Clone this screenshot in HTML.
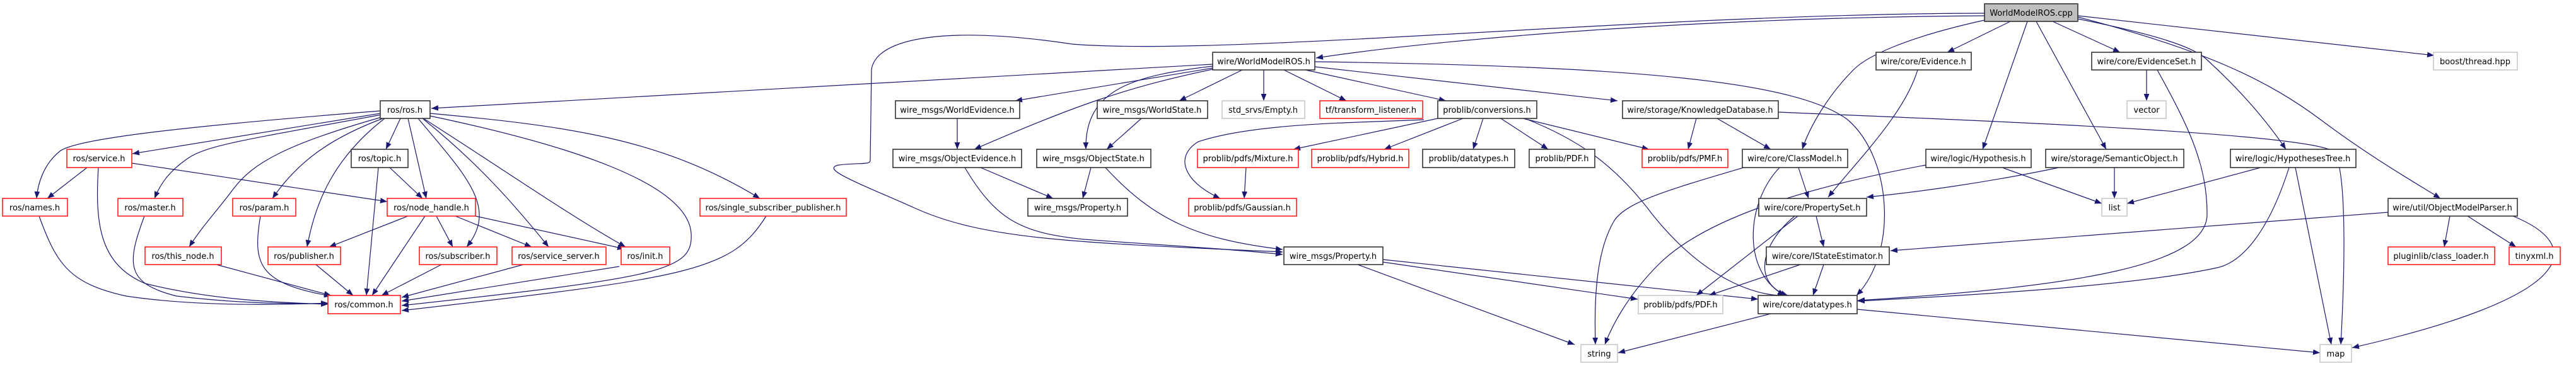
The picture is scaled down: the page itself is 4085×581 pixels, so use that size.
<!DOCTYPE html>
<html><head><meta charset="utf-8"><style>
html,body{margin:0;padding:0;background:#fff;}
svg{display:block;}
text{font-family:"DejaVu Sans","Liberation Sans",sans-serif;font-size:13px;fill:#000;text-anchor:middle;}
.b{fill:#fff;stroke:#333;stroke-width:1.6;}
.r{fill:#fff;stroke:#ff2020;stroke-width:1.6;}
.g{fill:#fff;stroke:#c0c0c0;stroke-width:1.4;}
.e{fill:none;stroke:#191970;stroke-width:1.2;marker-end:url(#a);}
</style></head><body>
<svg width="4085" height="581" viewBox="0 0 4085 581" xmlns="http://www.w3.org/2000/svg">
<defs><marker id="a" viewBox="0 0 10 8" refX="10" refY="4" markerWidth="11" markerHeight="9" markerUnits="userSpaceOnUse" orient="auto"><path d="M0,0 L10,4 L0,8 z" fill="#191970"/></marker></defs>
<g>
<!-- edges from WorldModelROS.cpp -->
<path class="e" d="M3147,25 C2700,28 2300,60 2087,92"/>
<path class="e" d="M3147,21 C2600,22 1950,90 1700,70 C1500,40 1390,60 1382,110 L1380,255 C1380,262 1360,258 1330,262 C1300,268 1360,290 1450,330 C1560,380 1700,385 2034,400"/>
<path class="e" d="M3188,34 L3088,83"/>
<path class="e" d="M3147,32 C3020,60 2960,90 2940,110 C2900,150 2870,200 2858,237"/>
<path class="e" d="M3215,34 L3144,237"/>
<path class="e" d="M3229,34 L3340,237"/>
<path class="e" d="M3255,34 L3362,83"/>
<path class="e" d="M3295,30 C3420,55 3480,75 3500,95 C3560,150 3600,200 3625,237"/>
<path class="e" d="M3295,27 C3500,80 3600,130 3680,190 C3760,250 3830,290 3870,315"/>
<path class="e" d="M3295,25 L3860,88"/>
<!-- Evidence / EvidenceSet / etc -->
<path class="e" d="M3041,111 C3020,180 2950,250 2899,313"/>
<path class="e" d="M3404,111 L3404,160"/>
<path class="e" d="M3421,111 C3470,200 3500,260 3500,340 C3500,420 3300,455 2946,477"/>
<path class="e" d="M3630,266 C3600,360 3560,415 3516,425 C3400,450 3200,465 2946,478"/>
<path class="e" d="M3640,266 L3697,547"/>
<path class="e" d="M3585,266 L3373,323"/>
<path class="e" d="M3175,266 L3333,323"/>
<path class="e" d="M3353,266 L3353,315"/>
<path class="e" d="M3054,262 C2850,300 2700,350 2630,420 C2580,470 2555,520 2545,547"/>
<path class="e" d="M3265,266 C3150,290 3040,305 2960,313"/>
<path class="e" d="M3787,337 L2998,398"/>
<path class="e" d="M3885,343 L3876,392"/>
<path class="e" d="M3913,343 L3990,392"/>
<path class="e" d="M3985,343 C4100,390 4090,470 3730,552"/>
<path class="e" d="M2820,178 C3100,190 3650,210 3700,240 C3720,260 3720,400 3712,547"/>
<path class="e" d="M2945,491 L3679,560"/>
<!-- WorldModelROS.h -->
<path class="e" d="M1923,102 L684,172"/>
<path class="e" d="M2085,98 C2600,105 2850,130 2930,190 C3000,250 3010,400 2944,469"/>
<path class="e" d="M2004,111 L2004,160"/>
<path class="e" d="M2036,111 L2135,160"/>
<path class="e" d="M2070,111 L2293,160"/>
<path class="e" d="M2085,106 L2565,160"/>
<path class="e" d="M1923,108 L1610,160"/>
<path class="e" d="M1970,111 L1870,160"/>
<path class="e" d="M1923,110 C1780,140 1700,170 1545,237"/>
<path class="e" d="M1923,105 C1800,120 1720,140 1722,237"/>
<!-- problib -->
<path class="e" d="M2280,188 L2051,237"/>
<path class="e" d="M2320,188 L2195,237"/>
<path class="e" d="M2352,188 L2336,237"/>
<path class="e" d="M2380,188 L2455,237"/>
<path class="e" d="M2415,188 L2615,237"/>
<path class="e" d="M2418,188 C2500,220 2560,260 2620,340 C2700,440 2780,470 2830,469"/>
<path class="e" d="M2258,190 C2150,195 1990,195 1900,225 C1860,250 1880,290 1935,315"/>
<path class="e" d="M1976,266 L1973,315"/>
<path class="e" d="M2690,188 L2677,237"/>
<path class="e" d="M2723,188 L2808,237"/>
<path class="e" d="M2765,266 C2650,300 2580,320 2560,350 C2530,400 2528,480 2530,547"/>
<path class="e" d="M2852,266 L2868,315"/>
<path class="e" d="M2822,266 C2770,320 2760,430 2830,469"/>
<path class="e" d="M2851,343 L2690,469"/>
<path class="e" d="M2846,343 C2790,390 2780,450 2835,469"/>
<path class="e" d="M2880,343 L2892,392"/>
<path class="e" d="M2855,420 L2710,469"/>
<path class="e" d="M2892,420 L2875,469"/>
<path class="e" d="M2153,420 L2497,547"/>
<path class="e" d="M2193,416 L2597,475"/>
<path class="e" d="M2193,412 L2788,475"/>
<path class="e" d="M2808,498 L2566,560"/>
<!-- wire_msgs -->
<path class="e" d="M1518,188 L1518,237"/>
<path class="e" d="M1810,188 L1755,237"/>
<path class="e" d="M1555,266 L1670,315"/>
<path class="e" d="M1730,266 L1717,315"/>
<path class="e" d="M1530,266 C1580,350 1620,370 1720,380 C1850,390 1950,395 2034,404"/>
<path class="e" d="M1753,266 C1830,350 1900,380 2034,396"/>
<!-- ros -->
<path class="e" d="M682,180 C900,200 1050,220 1205,315"/>
<path class="e" d="M1215,343 C1160,430 1100,440 637,493"/>
<path class="e" d="M682,184 C900,230 1090,290 1096,370 C1100,430 1050,440 637,485"/>
<path class="e" d="M673,189 C800,270 900,340 992,392"/>
<path class="e" d="M603,176 C300,200 120,220 95,240 C70,260 60,290 58,315"/>
<path class="e" d="M603,180 L210,244"/>
<path class="e" d="M605,182 C400,220 330,230 300,250 C270,270 255,290 245,315"/>
<path class="e" d="M605,186 C450,230 400,260 370,300 C340,340 320,360 300,392"/>
<path class="e" d="M610,187 C520,220 470,260 432,315"/>
<path class="e" d="M635,188 L612,237"/>
<path class="e" d="M610,188 C530,250 500,320 487,392"/>
<path class="e" d="M647,188 L676,315"/>
<path class="e" d="M663,188 C740,280 790,330 740,392"/>
<path class="e" d="M670,188 C760,260 820,330 870,392"/>
<path class="e" d="M138,266 L75,315"/>
<path class="e" d="M156,266 C150,360 160,420 230,450 C330,475 430,480 520,483"/>
<path class="e" d="M209,259 L614,320"/>
<path class="e" d="M62,343 C90,420 110,450 200,470 C300,485 420,485 520,481"/>
<path class="e" d="M229,343 C200,420 200,450 280,470 C380,482 450,482 520,482"/>
<path class="e" d="M413,343 C400,420 410,450 525,470"/>
<path class="e" d="M618,266 L670,315"/>
<path class="e" d="M600,266 L581,469"/>
<path class="e" d="M647,343 L522,392"/>
<path class="e" d="M674,343 L590,469"/>
<path class="e" d="M692,343 L718,392"/>
<path class="e" d="M722,343 L843,392"/>
<path class="e" d="M754,343 L990,395"/>
<path class="e" d="M343,420 L525,469"/>
<path class="e" d="M501,420 L560,469"/>
<path class="e" d="M700,420 L605,469"/>
<path class="e" d="M830,420 L637,472"/>
<path class="e" d="M982,423 L637,478"/>
</g>
<!-- nodes -->
<g>
<rect x="3147" y="6" width="148" height="28" style="fill:#bfbfbf;stroke:#333;stroke-width:1.6"/><text x="3221" y="25">WorldModelROS.cpp</text>

<rect class="b" x="1923" y="83" width="162" height="28"/><text x="2004" y="102">wire/WorldModelROS.h</text>
<rect class="b" x="2975" y="83" width="151" height="28"/><text x="3050" y="102">wire/core/Evidence.h</text>
<rect class="b" x="3317" y="83" width="174" height="28"/><text x="3404" y="102">wire/core/EvidenceSet.h</text>
<rect class="g" x="3859" y="83" width="133" height="28"/><text x="3925" y="102">boost/thread.hpp</text>

<rect class="b" x="603" y="160" width="79" height="28"/><text x="642" y="179">ros/ros.h</text>
<rect class="b" x="1420" y="160" width="197" height="28"/><text x="1518" y="179">wire_msgs/WorldEvidence.h</text>
<rect class="b" x="1740" y="160" width="175" height="28"/><text x="1827" y="179">wire_msgs/WorldState.h</text>
<rect class="g" x="1938" y="160" width="131" height="28"/><text x="2003" y="179">std_srvs/Empty.h</text>
<rect class="r" x="2093" y="160" width="163" height="28"/><text x="2174" y="179">tf/transform_listener.h</text>
<rect class="b" x="2280" y="160" width="157" height="28"/><text x="2358" y="179">problib/conversions.h</text>
<rect class="b" x="2573" y="160" width="247" height="28"/><text x="2696" y="179">wire/storage/KnowledgeDatabase.h</text>
<rect class="g" x="3373" y="160" width="62" height="28"/><text x="3404" y="179">vector</text>

<rect class="r" x="106" y="237" width="103" height="29"/><text x="157" y="256">ros/service.h</text>
<rect class="b" x="557" y="237" width="90" height="29"/><text x="602" y="256">ros/topic.h</text>
<rect class="b" x="1416" y="237" width="204" height="29"/><text x="1518" y="256">wire_msgs/ObjectEvidence.h</text>
<rect class="b" x="1644" y="237" width="181" height="29"/><text x="1734" y="256">wire_msgs/ObjectState.h</text>
<rect class="r" x="1899" y="237" width="160" height="29"/><text x="1979" y="256">problib/pdfs/Mixture.h</text>
<rect class="r" x="2080" y="237" width="154" height="29"/><text x="2157" y="256">problib/pdfs/Hybrid.h</text>
<rect class="b" x="2256" y="237" width="146" height="29"/><text x="2329" y="256">problib/datatypes.h</text>
<rect class="b" x="2425" y="237" width="104" height="29"/><text x="2477" y="256">problib/PDF.h</text>
<rect class="r" x="2604" y="237" width="136" height="29"/><text x="2672" y="256">problib/pdfs/PMF.h</text>
<rect class="b" x="2763" y="237" width="167" height="29"/><text x="2846" y="256">wire/core/ClassModel.h</text>
<rect class="b" x="3054" y="237" width="167" height="29"/><text x="3137" y="256">wire/logic/Hypothesis.h</text>
<rect class="b" x="3244" y="237" width="219" height="29"/><text x="3353" y="256">wire/storage/SemanticObject.h</text>
<rect class="b" x="3537" y="237" width="199" height="29"/><text x="3636" y="256">wire/logic/HypothesesTree.h</text>

<rect class="r" x="4" y="315" width="103" height="28"/><text x="55" y="334">ros/names.h</text>
<rect class="r" x="187" y="315" width="103" height="28"/><text x="238" y="334">ros/master.h</text>
<rect class="r" x="369" y="315" width="100" height="28"/><text x="419" y="334">ros/param.h</text>
<rect class="r" x="614" y="315" width="140" height="28"/><text x="684" y="334">ros/node_handle.h</text>
<rect class="r" x="1110" y="315" width="232" height="28"/><text x="1226" y="334">ros/single_subscriber_publisher.h</text>
<rect class="b" x="1630" y="315" width="158" height="28"/><text x="1709" y="334">wire_msgs/Property.h</text>
<rect class="r" x="1885" y="315" width="171" height="28"/><text x="1970" y="334">problib/pdfs/Gaussian.h</text>
<rect class="b" x="2789" y="315" width="171" height="28"/><text x="2874" y="334">wire/core/PropertySet.h</text>
<rect class="g" x="3333" y="315" width="40" height="28"/><text x="3353" y="334">list</text>
<rect class="b" x="3787" y="315" width="205" height="28"/><text x="3889" y="334">wire/util/ObjectModelParser.h</text>

<rect class="r" x="230" y="392" width="121" height="28"/><text x="290" y="411">ros/this_node.h</text>
<rect class="r" x="425" y="392" width="115" height="28"/><text x="482" y="411">ros/publisher.h</text>
<rect class="r" x="665" y="392" width="123" height="28"/><text x="726" y="411">ros/subscriber.h</text>
<rect class="r" x="812" y="392" width="149" height="28"/><text x="886" y="411">ros/service_server.h</text>
<rect class="r" x="985" y="392" width="77" height="28"/><text x="1023" y="411">ros/init.h</text>
<rect class="b" x="2036" y="392" width="157" height="28"/><text x="2114" y="411">wire_msgs/Property.h</text>
<rect class="b" x="2801" y="392" width="195" height="28"/><text x="2898" y="411">wire/core/IStateEstimator.h</text>
<rect class="r" x="3787" y="392" width="169" height="28"/><text x="3871" y="411">pluginlib/class_loader.h</text>
<rect class="r" x="3979" y="392" width="81" height="28"/><text x="4019" y="411">tinyxml.h</text>

<rect class="r" x="520" y="469" width="115" height="29"/><text x="577" y="488">ros/common.h</text>
<rect class="g" x="2598" y="469" width="134" height="29"/><text x="2665" y="488">problib/pdfs/PDF.h</text>
<rect class="b" x="2788" y="469" width="157" height="29"/><text x="2866" y="488">wire/core/datatypes.h</text>

<rect class="g" x="2507" y="547" width="58" height="28"/><text x="2536" y="566">string</text>
<rect class="g" x="3679" y="547" width="50" height="28"/><text x="3704" y="566">map</text>
</g>
</svg>
</body></html>
